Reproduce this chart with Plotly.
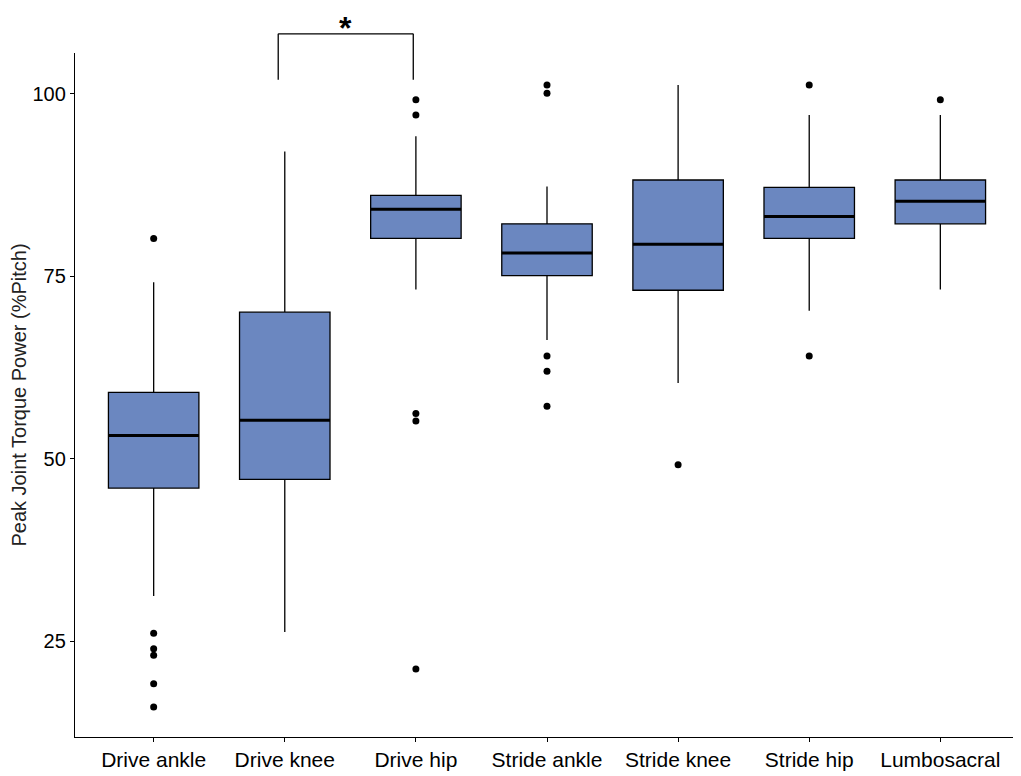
import plotly.graph_objects as go

# joints and box stats (%Pitch)
joints = ["Drive ankle", "Drive knee", "Drive hip", "Stride ankle", "Stride knee", "Stride hip", "Lumbosacral"]
q1 = [46, 47.2, 80.2, 75.1, 73.1, 80.2, 82.2]
median = [53.2, 55.3, 84.2, 78.2, 79.4, 83.2, 85.3]
q3 = [59.1, 70.1, 86.1, 82.2, 88.2, 87.2, 88.2]
lower = [31.2, 26.3, 73.2, 66.3, 60.4, 70.3, 73.2]
upper = [74.2, 92.1, 94.2, 87.3, 101.2, 97.1, 97.1]

# outliers per joint
outliers = [
    [80.2, 26.1, 24.0, 23.1, 19.2, 16.0],
    [],
    [99.2, 97.1, 56.2, 55.2, 21.2],
    [101.2, 100.1, 64.1, 62.0, 57.2],
    [49.2],
    [101.2, 64.1],
    [99.2],
]

box_w = 0.69
pos = list(range(len(joints)))
fill = "#6b87c0"

fig = go.Figure()

fig.add_trace(go.Box(
    x=pos, q1=q1, median=median, q3=q3, lowerfence=lower, upperfence=upper,
    width=box_w, whiskerwidth=0, boxpoints=False,
    fillcolor=fill, line=dict(color="black", width=1.3),
    hoverinfo="skip", showlegend=False,
))

# thicker median bars like ggplot
mx, my = [], []
for i, m in enumerate(median):
    mx += [i - box_w / 2, i + box_w / 2, None]
    my += [m, m, None]
fig.add_trace(go.Scatter(x=mx, y=my, mode="lines", line=dict(color="black", width=3),
                         hoverinfo="skip", showlegend=False))

ox, oy = [], []
for i, pts in enumerate(outliers):
    ox += [i] * len(pts)
    oy += pts
fig.add_trace(go.Scatter(x=ox, y=oy, mode="markers", marker=dict(color="black", size=7),
                         showlegend=False, cliponaxis=False))

# significance bracket Drive knee vs Drive hip
bl, br = 0.95, 1.98
br_top, br_bot = 1.028, 0.961
for x0, y0, x1, y1 in [(bl, br_bot, bl, br_top), (bl, br_top, br, br_top), (br, br_top, br, br_bot)]:
    fig.add_shape(type="line", xref="x", yref="paper", x0=x0, y0=y0, x1=x1, y1=y1,
                  line=dict(color="black", width=1.3))
fig.add_annotation(x=(bl + br) / 2, xref="x", y=1.065, yref="paper", text="<b>*</b>",
                   showarrow=False, yanchor="top", borderpad=0,
                   font=dict(size=32, color="black"))

# page body has an 8px margin, so the figure is sized to the visible area
fig.update_layout(
    width=1013, height=768,
    margin=dict(l=67, r=2, t=45, b=39),
    plot_bgcolor="white", paper_bgcolor="white",
    font=dict(family="Liberation Sans, Arial, sans-serif", color="black"),
    xaxis=dict(
        range=[-0.6, 6.6], tickmode="array", tickvals=pos, ticktext=joints,
        showline=True, linecolor="black", linewidth=1.3, showgrid=False, zeroline=False,
        ticks="outside", ticklen=4, tickcolor="black", tickfont=dict(size=21),
        automargin=False,
    ),
    yaxis=dict(
        range=[11.9, 105.6], tickvals=[25, 50, 75, 100],
        showline=True, linecolor="black", linewidth=1.3, showgrid=False, zeroline=False,
        ticks="outside", ticklen=4, tickcolor="black", tickfont=dict(size=20),
        title=dict(text="Peak Joint Torque Power (%Pitch)", font=dict(size=20, color="#222")),
        automargin=False,
    ),
)

fig.write_html("out.html")
